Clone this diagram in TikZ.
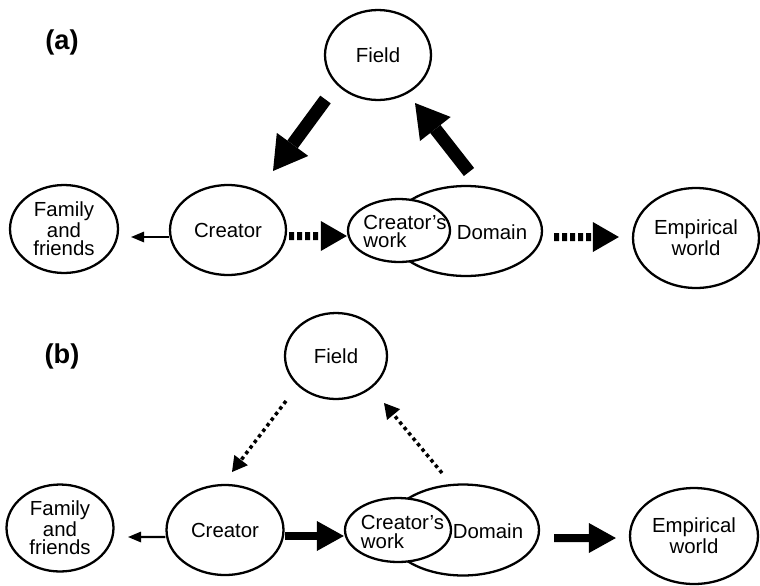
\documentclass[tikz,border=0pt]{standalone}
\usepackage{fontspec}
\setmainfont{Liberation Sans}
\usetikzlibrary{arrows.meta,shapes.geometric}
\begin{document}
\begin{tikzpicture}[x=0.02cm,y=-0.02cm,
  ell/.style={draw, ellipse, line width=1.3pt, inner sep=0pt, fill=white, align=center, font=\fontsize{11.6pt}{10.5pt}\selectfont},
  lbl/.style={inner sep=0pt, font=\fontsize{11.6pt}{10.5pt}\selectfont},
  panel/.style={inner sep=0pt, font=\fontsize{15.5pt}{18pt}\selectfont\bfseries},
  thinarrow/.style={line width=1.2pt, -{Triangle[length=0.26cm,width=0.22cm,line width=0pt]}},
  bigarrow/.style={line width=0.26cm, -{Triangle[length=0.66cm,width=0.78cm,line width=0pt]}},
  dotarrow/.style={line width=0.16cm, dash pattern=on 0.1cm off 0.06cm, -{Triangle[length=0.52cm,width=0.6cm,line width=0pt]}},
  solidarrow/.style={line width=0.16cm, -{Triangle[length=0.54cm,width=0.6cm,line width=0pt]}},
  finearrow/.style={line width=0.07cm, dash pattern=on 0.07cm off 0.07cm, -{Triangle[length=0.3cm,width=0.34cm,line width=0pt]}}
]
\useasboundingbox (0,0) rectangle (760,585);

% ---------- panel (a) ----------
\node[panel] (la) at (62,42) {(a)};
\node[ell, minimum width=2.12cm, minimum height=1.8cm] (fa) at (378,55) {Field};
\node[ell, minimum width=2.16cm, minimum height=1.76cm] (fama) at (64,229) {Family\\and\\friends};
\node[ell, minimum width=2.32cm, minimum height=1.8cm] (cra) at (228,230) {Creator};
\node[ell, minimum width=3.04cm, minimum height=1.8cm] (doma) at (466,231) {};
\node[lbl] (domat) at (492,232) {Domain};
\node[ell, minimum width=2.04cm, minimum height=1.26cm] (cwa) at (399,230.5) {};
\node[lbl, align=left] (cwat) at (405,231.5) {Creator’s\\work};
\node[ell, minimum width=2.52cm, minimum height=2.0cm] (empa) at (696,238) {Empirical\\world};

\coordinate (fa-tail) at (325.5,99.5);
\coordinate (cra-tip) at (273,171);
\draw[bigarrow] (fa-tail) -- (cra-tip);
\coordinate (doma-tail) at (469,172);
\coordinate (fa-tip) at (415,103);
\draw[bigarrow] (doma-tail) -- (fa-tip);

\draw[thinarrow] ([yshift=-0.14cm]cra.west) -- ([yshift=-0.16cm, xshift=0.24cm]fama.east);
\draw[dotarrow] ([xshift=0.04cm, yshift=-0.12cm]cra.east) -- ([yshift=-0.11cm]cwa.west);
\draw[dotarrow] ([xshift=0.22cm, yshift=-0.12cm]doma.east) -- ([xshift=-0.26cm, yshift=0.02cm]empa.west);

% ---------- panel (b) ----------
\node[panel] (lb) at (62,356) {(b)};
\node[ell, minimum width=2.04cm, minimum height=1.72cm] (fb) at (336,356) {Field};
\node[ell, minimum width=2.14cm, minimum height=1.74cm] (famb) at (60,528) {Family\\and\\friends};
\node[ell, minimum width=2.34cm, minimum height=1.8cm] (crb) at (225,530) {Creator};
\node[ell, minimum width=3.04cm, minimum height=1.82cm] (domb) at (463,530) {};
\node[lbl] (dombt) at (488,531) {Domain};
\node[ell, minimum width=2.12cm, minimum height=1.28cm] (cwb) at (398,530) {};
\node[lbl, align=left] (cwbt) at (402.5,532) {Creator’s\\work};
\node[ell, minimum width=2.56cm, minimum height=1.92cm] (empb) at (694,536) {Empirical\\world};

\coordinate (fb-tail) at (286,401);
\coordinate (crb-tip) at (232,472);
\draw[finearrow] (fb-tail) -- (crb-tip);
\coordinate (domb-tail) at (442,473);
\coordinate (fb-tip) at (384,403);
\draw[finearrow] (domb-tail) -- (fb-tip);

\draw[thinarrow] ([yshift=-0.14cm]crb.west) -- ([yshift=-0.18cm, xshift=0.27cm]famb.east);
\draw[solidarrow] ([yshift=-0.12cm]crb.east) -- ([yshift=-0.12cm]cwb.west);
\draw[solidarrow] ([xshift=0.28cm, yshift=-0.16cm]domb.east) -- ([xshift=-0.26cm, yshift=-0.04cm]empb.west);
\end{tikzpicture}
\end{document}
